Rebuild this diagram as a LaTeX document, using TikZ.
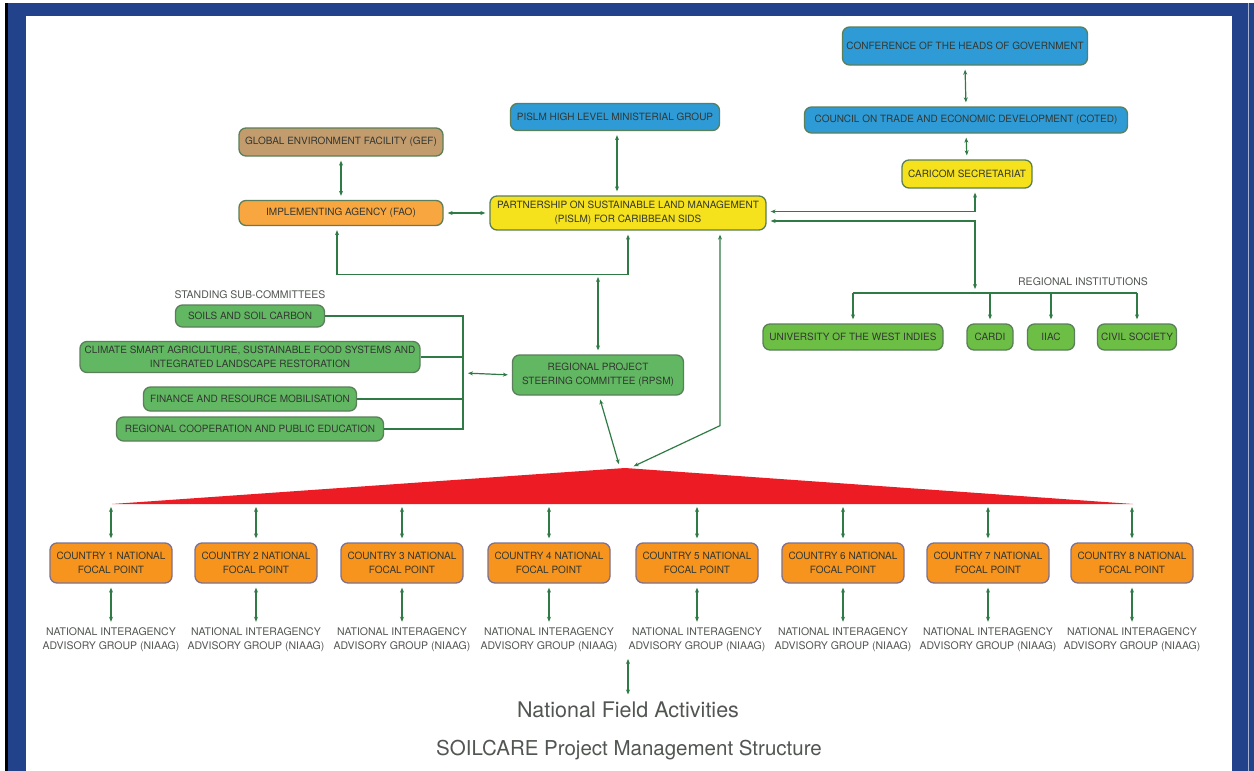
\documentclass[tikz,border=0pt]{standalone}
\usepackage{fontspec}
\setmainfont{TeX Gyre Heros}
\usetikzlibrary{arrows.meta}

\definecolor{frameblue}{HTML}{22438C}
\definecolor{boxblue}{HTML}{2E9BD6}
\definecolor{boxyellow}{HTML}{F6E21C}
\definecolor{boxbrown}{HTML}{C39C6E}
\definecolor{boxorange}{HTML}{F8A640}
\definecolor{cntorange}{HTML}{F7941D}
\definecolor{boxgreen}{HTML}{62B862}
\definecolor{instgreen}{HTML}{6DBE45}
\definecolor{linkgreen}{HTML}{2F7A45}
\definecolor{edgegreen}{HTML}{5A7F5A}
\definecolor{edgegray}{HTML}{7D7190}
\definecolor{redbar}{HTML}{ED1C24}
\definecolor{txt}{HTML}{333833}

\tikzset{
  orgbox/.style={draw=edgegreen, line width=1.3pt, rounded corners=7pt, text=txt,
    font=\fontsize{10}{13.5}\selectfont, align=center, inner sep=2pt},
  cntbox/.style={orgbox, draw=edgegray, fill=cntorange, minimum width=122pt, minimum height=40pt},
  caption/.style={text=txt!85, font=\fontsize{10.5}{14}\selectfont, align=center, inner sep=2pt},
  link/.style={draw=linkgreen, line width=1.2pt, shorten >=4pt, shorten <=4pt,
    {Stealth[length=5pt,width=4pt]}-{Stealth[length=5pt,width=4pt]}},
  tolink/.style={draw=linkgreen, line width=1.2pt, shorten >=4pt, -{Stealth[length=5pt,width=4pt]}},
  plain/.style={draw=linkgreen, line width=1.2pt}
}

\begin{document}
\begin{tikzpicture}[x=1pt,y=-1pt]
  \useasboundingbox (0,0) rectangle (1254,771);
  % frame
  \fill[frameblue] (5,3) rectangle (1254,771);
  \fill[black] (5,3) rectangle (7.5,771);
  \fill[white] (26,16) rectangle (1232,771);
  \draw[white!60!frameblue, line width=1pt] (1248,3) -- (1248,771);

  % top of the structure
  \node[orgbox, fill=boxblue, minimum width=245pt, minimum height=38pt] (conf) at (965,46) {CONFERENCE OF THE HEADS OF GOVERNMENT};
  \node[orgbox, fill=boxblue, minimum width=323pt, minimum height=26pt] (coted) at (966,120) {COUNCIL ON TRADE AND ECONOMIC DEVELOPMENT (COTED)};
  \node[orgbox, fill=boxyellow, minimum width=130pt, minimum height=28pt] (caricom) at (967,174) {CARICOM SECRETARIAT};
  \node[orgbox, fill=boxblue, minimum width=209pt, minimum height=27pt] (hlmg) at (615,117) {PISLM HIGH LEVEL MINISTERIAL GROUP};
  \node[orgbox, fill=boxbrown, minimum width=204pt, minimum height=28pt] (gef) at (341,142) {GLOBAL ENVIRONMENT FACILITY (GEF)};
  \node[orgbox, fill=boxorange, minimum width=204pt, minimum height=25pt] (fao) at (341,213) {IMPLEMENTING AGENCY (FAO)};
  \node[orgbox, fill=boxyellow, minimum width=276pt, minimum height=34pt] (pislm) at (628,213) {PARTNERSHIP ON SUSTAINABLE LAND MANAGEMENT\\(PISLM) FOR CARIBBEAN SIDS};

  % sub-committees
  \node[caption] (standing) at (250,295) {STANDING SUB-COMMITTEES};
  \node[orgbox, fill=boxgreen, minimum width=149pt, minimum height=22pt] (soils) at (250,316) {SOILS AND SOIL CARBON};
  \node[orgbox, fill=boxgreen, minimum width=340pt, minimum height=31pt] (climate) at (250,357) {CLIMATE SMART AGRICULTURE, SUSTAINABLE FOOD SYSTEMS AND\\INTEGRATED LANDSCAPE RESTORATION};
  \node[orgbox, fill=boxgreen, minimum width=213pt, minimum height=24pt] (finance) at (250,399) {FINANCE AND RESOURCE MOBILISATION};
  \node[orgbox, fill=boxgreen, minimum width=267pt, minimum height=24pt] (educ) at (250,429) {REGIONAL COOPERATION AND PUBLIC EDUCATION};
  \node[orgbox, fill=boxgreen, minimum width=171pt, minimum height=40pt] (rpsm) at (598,375) {REGIONAL PROJECT\\STEERING COMMITTEE (RPSM)};

  % regional institutions
  \node[caption] (reginst) at (1083,282) {REGIONAL INSTITUTIONS};
  \node[orgbox, fill=instgreen, minimum width=180pt, minimum height=26pt] (uwi) at (853,337) {UNIVERSITY OF THE WEST INDIES};
  \node[orgbox, fill=instgreen, minimum width=46pt, minimum height=26pt] (cardi) at (990,337) {CARDI};
  \node[orgbox, fill=instgreen, minimum width=47pt, minimum height=26pt] (iiac) at (1051,337) {IIAC};
  \node[orgbox, fill=instgreen, minimum width=79pt, minimum height=26pt] (civil) at (1137,337) {CIVIL SOCIETY};

  \coordinate (loop) at (598,273);
  \coordinate (brk) at (463,373);
  \coordinate (bus) at (975,293);
  \coordinate (apex) at (625,468);
  \coordinate (barline) at (0,503);
  \coordinate (fieldtop) at (628,655);

  % red bar
  \fill[redbar] (112,504) -- (apex) -- (1133,504) -- cycle;

  % links
  \draw[link] (conf.south) -- (coted.north);
  \draw[link] (coted.south) -- (caricom.north);
  \draw[link] (gef.south) -- (fao.north);
  \draw[link] ([xshift=2pt]hlmg.south) -- ([xshift=2pt]hlmg.south |- pislm.north);
  \draw[link] (fao.east) -- (pislm.west);
  \draw[link] ([xshift=-4pt]fao.south) -- ++(0,48) -| (pislm.south);
  \draw[link] (loop) -- (rpsm.north);
  \draw[link] ([xshift=8pt]caricom.south) |- ([yshift=1.5pt]pislm.east);
  \draw[link] ([yshift=-8pt]pislm.east) -| (bus);
  \draw[link] ([xshift=92pt]pislm.south) -- ++(0,195) -- ([xshift=5pt]apex);
  \draw[link] ([xshift=1pt]rpsm.south) -- ([xshift=-5pt]apex);

  % sub-committee bracket
  \draw[plain] (soils.east) -- (brk |- soils.east) -- (brk |- educ.east) -- (educ.east);
  \draw[plain] (climate.east) -- (brk |- climate.east);
  \draw[plain] (finance.east) -- (brk |- finance.east);
  \draw[link] ([xshift=1pt]brk) -- (rpsm.west);

  % institution bus
  \draw[plain] (uwi.north |- bus) -- (civil.north |- bus);
  \foreach \inst in {uwi,cardi,iiac,civil}
    \draw[tolink] (\inst.north |- bus) -- (\inst.north);

  % countries
  \foreach \i/\x in {1/111,2/256,3/402,4/549,5/697,6/843,7/988,8/1132} {
    \node[cntbox] (c\i) at (\x,563) {COUNTRY \i\ NATIONAL\\FOCAL POINT};
    \node[caption] (n\i) at (\x,640) {NATIONAL INTERAGENCY\\ADVISORY GROUP (NIAAG)};
    \draw[link] (c\i.north |- barline) -- (c\i.north);
    \draw[link] (c\i.south) -- (n\i.north);
  }

  \node[text=txt!85, font=\fontsize{21.5}{24}\selectfont] (field) at (628,710) {National Field Activities};
  \draw[link] (fieldtop) -- (field.north);
  \node[text=txt!85, font=\fontsize{20.5}{24}\selectfont] (title) at (629,750) {SOILCARE Project Management Structure};
\end{tikzpicture}
\end{document}
